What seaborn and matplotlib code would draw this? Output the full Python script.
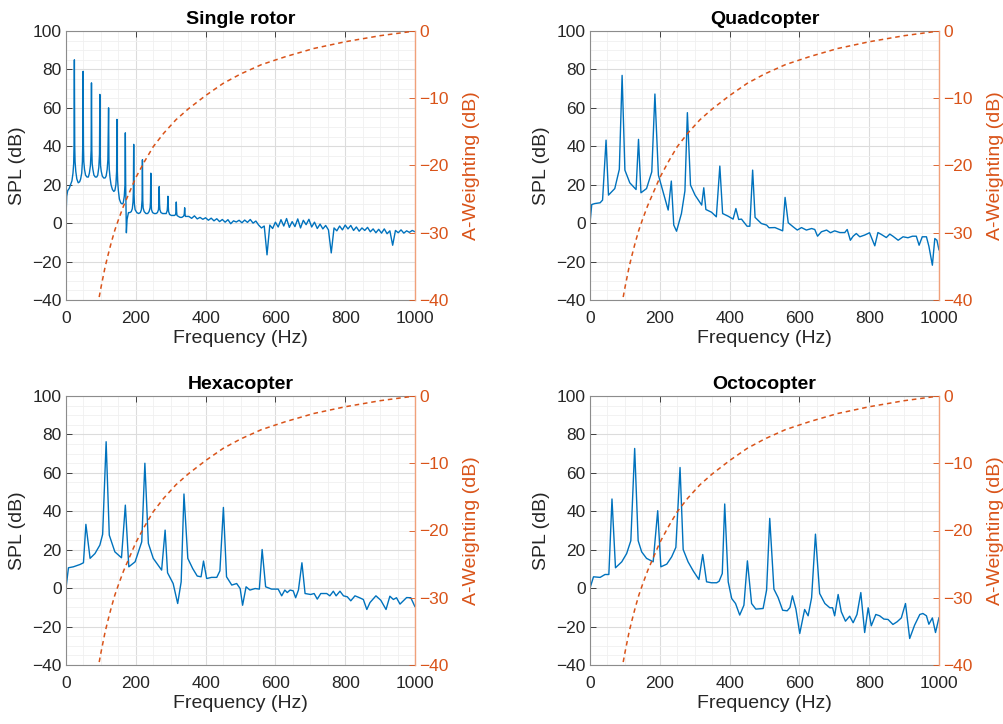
import numpy as np
import pandas as pd
import matplotlib
matplotlib.use("Agg")
import matplotlib.pyplot as plt
import seaborn as sns
from matplotlib.ticker import MultipleLocator

# ---------------- data ----------------
titles = ["Single rotor", "Quadcopter", "Hexacopter", "Octocopter"]

sr_freq = [0, 2, 5, 9, 13, 17, 20, 22, 23, 24, 25, 26, 28, 31, 35, 39, 42, 45, 47, 48, 49, 50,
           51, 53, 56, 60, 64, 67, 70, 72, 73, 74, 75, 77, 80, 84, 88, 91, 94, 96, 97, 98, 99,
           101, 104, 108, 112, 115, 118, 120, 122, 123, 124, 126, 129, 133, 137, 140, 143, 145,
           146, 147, 148, 150, 153, 157, 161, 164, 167, 169, 170, 171, 172, 173, 175, 179, 183,
           187, 190, 192, 193, 194, 195, 196, 198, 203, 208, 213, 216, 218, 219, 220, 221, 224,
           229, 234, 238, 241, 242, 243, 244, 245, 248, 253, 258, 262, 265, 266, 267, 268, 269,
           272, 277, 282, 287, 290, 291, 292, 293, 294, 297, 302, 307, 311, 314, 315, 316, 317,
           318, 322, 327, 332, 336, 338, 339, 340, 341, 342, 346,
           352, 360, 368, 376, 384, 392, 400, 408, 416, 424, 432, 440, 448, 456, 464, 472,
           480, 488, 496, 504, 512, 520, 528, 536, 544, 552, 560, 568, 576, 584, 592, 600,
           608, 616, 624, 632, 640, 648, 656, 664, 672, 680, 688, 696, 704, 712, 720, 728,
           736, 744, 752, 760, 768, 776, 784, 792, 800, 808, 816, 824, 832, 840, 848, 856,
           864, 872, 880, 888, 896, 904, 912, 920, 928, 936, 944, 952, 960, 968, 976, 984,
           992, 1000]
sr_spl = [3, 14, 17, 18, 20, 22, 26, 31, 40, 85, 40, 32, 27, 23, 21, 21.5, 23, 26, 32, 41, 79, 40,
          32, 28, 25, 24, 24, 26, 30, 38, 73, 38, 31, 28, 25, 24, 24, 25, 29, 36, 67, 36, 30,
          27, 24.5, 23.5, 23.5, 24.5, 28, 33, 60, 33, 28, 24, 20, 17.5, 16.5, 17, 20, 27,
          54, 27, 22, 17, 12.5, 10.5, 10, 10.5, 14, 20, 47, 20, 8, -5, 2, 5.5, 5.5,
          6, 7.5, 11, 16, 41, 15, 10, 7, 5.5, 5, 5.5, 7, 12, 33, 12, 8, 6,
          5, 5, 6, 8, 11, 26, 11, 7, 5.5, 5, 5, 5.5, 7, 10, 19, 10, 7,
          5.5, 5, 5, 5, 6.5, 9, 14, 9, 6, 4.5, 4, 4, 4, 4.5, 6, 11, 6,
          4, 3.5, 3, 3, 3.5, 4, 5, 8, 5, 3.5, 3.5,
          3.5, 2.5, 3.8, 2.2, 3.0, 2.0, 2.8, 1.5, 2.6, 1.2, 2.3, 0.8, 1.9, 0.5, 1.8, -0.3,
          1.2, 0.6, 1.5, 0.2, 1.6, 0.4, 1.9, 0.0, 1.1, -1.0, -2.5, -1.5, -16.5, -1.0, -2.8, 0.5,
          -2.0, 1.8, -1.5, 2.4, -2.2, 0.8, -1.8, 2.2, -2.5, 1.5, -0.8, 2.0, -2.0, 0.5, -2.8, -0.5,
          -3.0, -1.2, -3.5, -15.5, -2.5, -4.0, -1.5, -3.5, -1.0, -3.0, -1.2, -3.8, -2.0, -4.2, -2.5, -3.8,
          -2.2, -4.5, -3.0, -5.0, -3.2, -5.2, -3.0, -5.5, -4.0, -11.5, -3.8, -5.0, -3.5, -5.2, -4.0, -4.8,
          -3.8, -4.5]

quad_freq = [0, 5, 14, 29, 36, 46, 53, 71, 84, 92, 100, 114, 132, 139, 146, 162, 177, 186,
             196, 224, 233, 240, 248, 262, 272, 279, 288, 301, 320, 326, 332, 348, 362, 372,
             380, 396, 410, 418, 426, 434, 450, 458, 466, 473, 491, 506, 513, 530, 552, 559,
             568, 582, 594, 606, 620, 635, 644, 652, 663, 678, 689, 701, 716, 730, 737, 746,
             754, 763, 773, 787, 801, 816, 825, 835, 849, 859, 868, 883, 897, 911, 924, 935,
             943, 952, 964, 971, 981, 988, 994, 1000]
quad_spl = [0, 9.7, 10.2, 10.6, 12, 43.2, 14.6, 18, 28, 76.9, 27.6, 21, 17.5, 43.6, 15.8, 18,
            26.7, 67.2, 25, 6.8, 21.9, -1, -4.2, 5, 16.8, 57.5, 19.8, 14.6, 9.4, 18.4, 7.1, 5.7,
            3.3, 29.7, 5, 3.6, 2.1, 7.6, 1.9, 2.1, -1.6, -1.6, 27.6, 3, -0.2, -1, -2.4, -2.3,
            -4, 13.4, 0.2, -1.9, -3.6, -2.3, -3.6, -2.8, -3.3, -6.8, -4.5, -3.6, -5, -4, -4.9,
            -4.9, -3.3, -8.9, -6.8, -5.4, -7.1, -6.2, -5, -11.8, -4.9, -5.9, -7.5, -5.7, -6.8,
            -8.9, -7.1, -7.6, -6.8, -6.8, -11.5, -7.1, -7.1, -12, -21.9, -8, -8.9, -14]

hexa_freq = [0, 7, 21, 40, 50, 57, 69, 83, 97, 105, 115, 124, 140, 159, 170, 180, 198, 217,
             226, 236, 250, 274, 284, 291, 307, 320, 330, 338, 349, 363, 376, 387, 394, 403,
             417, 432, 441, 451, 460, 475, 489, 499, 506, 516, 527, 542, 554, 562, 572, 589,
             608, 618, 627, 634, 642, 651, 658, 666, 676, 685, 701, 711, 720, 730, 747, 756,
             766, 774, 785, 795, 806, 816, 828, 840, 852, 862, 871, 888, 902, 917, 928, 938,
             947, 957, 976, 988, 1000]
hexa_spl = [0, 10.6, 11.1, 12.3, 13.2, 33.2, 15.5, 18, 22.4, 28, 76.2, 27.6, 18.9, 15.8, 43.2,
            11.1, 13.7, 24.1, 65, 23.3, 15.5, 9.4, 30.2, 8, 2.4, -8, 3.3, 49, 15.5, 10.2, 6.3,
            5.9, 14.1, 5, 5.6, 5.6, 9, 42, 5.9, 1.6, 2.4, -0.2, -8.9, 0.7, -1, -0.2, -0.5, 20.1,
            0.7, -0.5, -0.5, -4, -1, -2.3, -1, -1.4, -5, -1, 13.2, -2.8, -3.3, -2.8, -5.7, -2.8,
            -2.8, -4, -1.6, -4, -1.6, -4, -4.5, -6.6, -4, -4.9, -5.9, -11.1, -7.5, -4, -6.3,
            -11.1, -4.2, -5.9, -5, -8.3, -4.9, -5, -9.7]

octo_freq = [0, 10, 29, 43, 54, 63, 73, 91, 105, 117, 128, 138, 148, 162, 181, 194, 203, 220,
             234, 246, 258, 267, 281, 296, 312, 323, 334, 348, 363, 370, 379, 386, 396, 406,
             417, 429, 441, 451, 463, 475, 496, 506, 515, 527, 539, 552, 565, 573, 580, 590,
             601, 615, 625, 635, 646, 658, 673, 687, 695, 701, 711, 720, 732, 744, 754, 765,
             776, 787, 797, 806, 819, 830, 842, 854, 868, 880, 892, 904, 916, 930, 945, 954,
             964, 971, 981, 990, 1000]
octo_spl = [0, 5.9, 5.6, 7.1, 7.1, 46.4, 10.6, 13.7, 18, 24.7, 72.7, 24.7, 18.9, 15.5, 13.7,
            40.3, 11.1, 12.5, 16.3, 21.2, 62.8, 20.1, 13.7, 8.9, 4.5, 17.5, 3.3, 2.8, 2.8, 3.6,
            7.6, 43.8, 3.3, -5.4, -8, -14, -8.9, 14.2, -8, -10.9, -10.6, -1, 36.3, -0.5, -4.9,
            -11.5, -11.8, -10.1, -4, -10.9, -23.6, -11.1, -14.4, -4.9, 28.1, -2.8, -8, -10.2,
            -10.2, -14.4, -3.3, -12.3, -17.2, -14.6, -18, -13.7, -2.3, -23.1, -10.2, -19.6,
            -13.7, -14.4, -16.1, -16.3, -18.9, -17.5, -15.5, -8, -26.2, -19.3, -13.7, -13.2,
            -14.4, -18.8, -15.5, -23.1, -15.3]

aw_freq = [92, 95, 100, 105, 112, 120, 130, 140, 150, 165, 180, 200, 225, 250, 280, 315, 350,
           400, 450, 500, 560, 630, 710, 800, 900, 1000]
aw_db = [-40.8, -39.6, -38.2, -36.9, -35.1, -33.4, -31.4, -29.6, -28.1, -26.0, -24.2, -21.8,
         -19.4, -17.2, -15.2, -13.2, -11.6, -9.6, -7.8, -6.4, -5.0, -3.8, -2.6, -1.6, -0.7, 0.0]

spectra = [(sr_freq, sr_spl), (quad_freq, quad_spl), (hexa_freq, hexa_spl), (octo_freq, octo_spl)]

# ---------------- style ----------------
sns.set_theme(style="white")
plt.rcParams["font.family"] = ["Liberation Sans", "DejaVu Sans"]
plt.rcParams["axes.unicode_minus"] = True

BLUE = "#0072BD"
ORANGE = "#D95319"
DARK = "#262626"

fig = plt.figure(figsize=(10.04, 7.24), dpi=100)
W, H = 1004, 724
boxes = [(66, 31, 415, 300), (590, 31, 939, 300), (66, 396, 415, 665), (590, 396, 939, 665)]

aw_df = pd.DataFrame({"f": aw_freq, "a": aw_db})

for (l, t, r, b), title, (fr, spl) in zip(boxes, titles, spectra):
    ax = fig.add_axes([l / W, 1 - b / H, (r - l) / W, (b - t) / H])
    df = pd.DataFrame({"f": fr, "spl": spl})
    sns.lineplot(data=df, x="f", y="spl", ax=ax, color=BLUE, linewidth=1.0, sort=False)
    ax.set_xlim(0, 1000)
    ax.set_ylim(-40, 100)
    ax.xaxis.set_major_locator(MultipleLocator(200))
    ax.xaxis.set_minor_locator(MultipleLocator(50))
    ax.yaxis.set_major_locator(MultipleLocator(20))
    ax.yaxis.set_minor_locator(MultipleLocator(5))
    ax.grid(which="major", color="#dcdcdc", linewidth=0.8)
    ax.grid(which="minor", color="#f0f0f0", linewidth=0.6)
    ax.set_axisbelow(True)
    ax.set_xlabel("Frequency (Hz)", fontsize=14, color=DARK, labelpad=3)
    ax.set_ylabel("SPL (dB)", fontsize=14, color=DARK, labelpad=5)
    ax.set_title(title, fontsize=14, fontweight="bold", color="black", pad=5)
    ax.tick_params(axis="both", which="major", labelsize=12.5, colors=DARK, direction="in",
                   length=4, width=0.6, pad=3)
    ax.tick_params(axis="x", which="major", pad=8, top=True)
    ax.tick_params(axis="both", which="minor", length=0)
    for side in ["left", "bottom", "top"]:
        ax.spines[side].set_color("#8c8c8c")
        ax.spines[side].set_linewidth(0.8)
    ax.spines["right"].set_visible(False)

    ax2 = ax.twinx()
    sns.lineplot(data=aw_df, x="f", y="a", ax=ax2, color=ORANGE, linewidth=1.1,
                 linestyle=(0, (3, 2.5)))
    ax2.set_ylim(-40, 0)
    ax2.yaxis.set_major_locator(MultipleLocator(10))
    ax2.grid(False)
    ax2.set_xlim(0, 1000)
    ax2.set_ylabel("A-Weighting (dB)", fontsize=14, color=ORANGE, labelpad=10)
    ax2.set_xlabel("")
    ax2.tick_params(axis="y", labelsize=12.5, colors=ORANGE, direction="in", length=4,
                    width=0.6, pad=3)
    for side in ["left", "bottom", "top"]:
        ax2.spines[side].set_visible(False)
    ax2.spines["right"].set_color("#f0a07a")
    ax2.spines["right"].set_linewidth(1.0)

fig.savefig("out.png", dpi=100, facecolor="white")
